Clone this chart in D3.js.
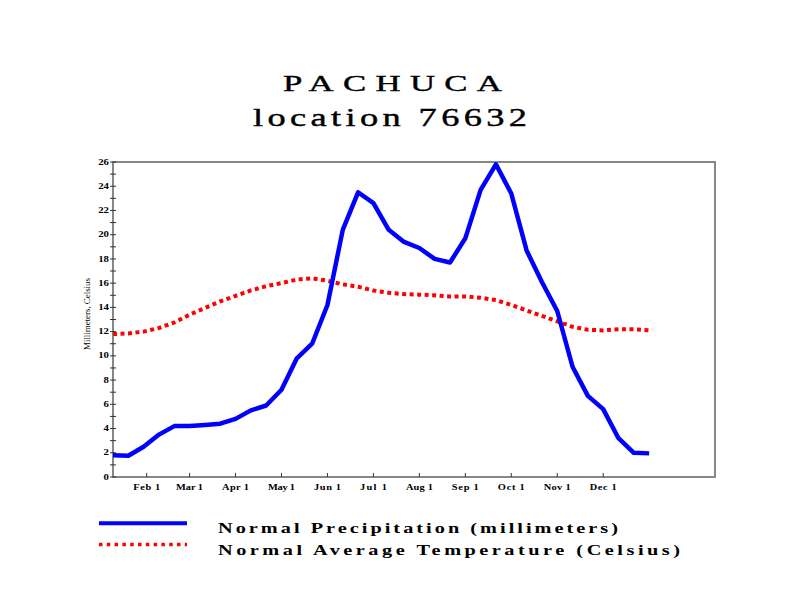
<!DOCTYPE html>
<html>
<head>
<meta charset="utf-8">
<script src="https://cdn.jsdelivr.net/npm/d3@7"></script>
<style>
  html, body { margin: 0; padding: 0; background: #ffffff; }
  svg { display: block; }
  text { font-family: "Liberation Serif", "DejaVu Serif", serif; fill: #000; }
</style>
</head>
<body>
<svg id="chart" width="792" height="612"></svg>
<script>
// ---- data (dekads, 36 per year) ----
const precipitation = [1.8, 1.75, 2.5, 3.5, 4.2, 4.2, 4.3, 4.4, 4.8, 5.5, 5.9, 7.2,
  9.8, 11.0, 14.2, 20.4, 23.5, 22.6, 20.4, 19.4, 18.9, 18.0, 17.7, 19.7,
  23.7, 25.8, 23.4, 18.7, 16.1, 13.7, 9.1, 6.7, 5.6, 3.2, 2.0, 1.95];
const temperature = [11.8, 11.85, 12.0, 12.3, 12.75, 13.4, 13.95, 14.5, 14.95, 15.4, 15.75, 16.0,
  16.3, 16.4, 16.2, 15.9, 15.7, 15.4, 15.2, 15.1, 15.05, 15.0, 14.9, 14.9,
  14.8, 14.6, 14.2, 13.75, 13.3, 12.85, 12.4, 12.15, 12.1, 12.2, 12.2, 12.1];
const monthLabels = ["Feb 1", "Mar 1", "Apr 1", "May 1", "Jun 1", "Jul 1", "Aug 1", "Sep 1", "Oct 1", "Nov 1", "Dec 1"];
const monthTickIndex = [2.2, 5, 8, 11, 14, 17, 20, 23, 26, 29, 32];
const yMajorTicks = [0, 2, 4, 6, 8, 10, 12, 14, 16, 18, 20, 22, 24, 26];
const yMinorTicks = d3.range(0, 27, 1);
const titleLines = ["PACHUCA", "location 76632"];
const yAxisTitle = "Millimeters, Celsius";
const legendLabels = ["Normal Precipitation (millimeters)", "Normal Average Temperature (Celsius)"];

// ---- layout ----
const svg = d3.select("#chart");
const plotLeft = 113, plotRight = 715, plotTop = 162, plotBottom = 477;

const x = d3.scaleLinear().domain([0, 39.3]).range([plotLeft, plotRight]);
const y = d3.scaleLinear().domain([0, 26]).range([plotBottom, plotTop]);

// wide-glyph text helper (horizontal stretch like the original raster font)
function wideText(parent, o) {
  const g = parent.append("g").attr("transform", `translate(${o.x},${o.y}) scale(${o.sx},1)`);
  const t = g.append("text").attr("x", 0).attr("y", 0)
    .attr("font-size", o.size).attr("text-anchor", o.anchor || "start")
    .attr("font-weight", o.weight || "normal");
  if (o.dy) t.attr("dy", o.dy);
  if (o.len) t.attr("textLength", o.len / o.sx).attr("lengthAdjust", "spacing");
  if (o.ls) t.attr("letter-spacing", o.ls);
  t.text(o.text);
  return t;
}

// title
wideText(svg, { x: 392.5, y: 91, sx: 1.45, size: 24, anchor: "middle", len: 219, text: titleLines[0] })
  .attr("stroke", "#000").attr("stroke-width", 0.4);
wideText(svg, { x: 390, y: 126, sx: 1.4, size: 26, anchor: "middle", len: 274, text: titleLines[1] })
  .attr("stroke", "#000").attr("stroke-width", 0.4);

// frame
svg.append("rect").attr("x", plotLeft).attr("y", plotTop)
  .attr("width", plotRight - plotLeft).attr("height", plotBottom - plotTop)
  .attr("fill", "#ffffff").attr("stroke", "#7a7a7a").attr("stroke-width", 1.8);

// y axis ticks
const yAxisG = svg.append("g");
yAxisG.selectAll("line").data(yMinorTicks).join("line")
  .attr("x1", plotLeft - 3).attr("x2", plotLeft + 3)
  .attr("y1", d => y(d)).attr("y2", d => y(d))
  .attr("stroke", "#333").attr("stroke-width", 1);
yMajorTicks.forEach(v => {
  wideText(yAxisG, { x: plotLeft - 4, y: y(v), dy: "0.33em", sx: 1.35, size: 8,
    anchor: "end", weight: "bold", text: String(v) });
});

// x axis ticks
const xAxisG = svg.append("g");
xAxisG.selectAll("line").data(monthTickIndex).join("line")
  .attr("x1", d => x(d)).attr("x2", d => x(d))
  .attr("y1", plotBottom).attr("y2", plotBottom - 4)
  .attr("stroke", "#333").attr("stroke-width", 1);
monthLabels.forEach((lab, i) => {
  wideText(xAxisG, { x: x(monthTickIndex[i]), y: 490, sx: 1.3, size: 8, anchor: "middle",
    weight: "bold", len: 27, text: lab });
});

// y axis title
svg.append("text").attr("transform", "translate(90,314) rotate(-90)")
  .attr("text-anchor", "middle").attr("font-size", 9)
  .attr("textLength", 72).attr("lengthAdjust", "spacing")
  .text(yAxisTitle);

// lines
const line = d3.line().x((d, i) => x(i)).y(d => y(d));
svg.append("path").datum(temperature).attr("d", line)
  .attr("fill", "none").attr("stroke", "#ff0000").attr("stroke-width", 4)
  .attr("stroke-dasharray", "4,3.5");
svg.append("path").datum(precipitation).attr("d", line)
  .attr("fill", "none").attr("stroke", "#0000ff").attr("stroke-width", 4.5)
  .attr("stroke-linejoin", "round");

// legend
svg.append("line").attr("x1", 99).attr("x2", 187).attr("y1", 523.3).attr("y2", 523.3)
  .attr("stroke", "#0000ff").attr("stroke-width", 4);
svg.append("line").attr("x1", 99).attr("x2", 187).attr("y1", 544.5).attr("y2", 544.5)
  .attr("stroke", "#ff0000").attr("stroke-width", 3.5).attr("stroke-dasharray", "3.5,4.3");
wideText(svg, { x: 218, y: 533, sx: 1.45, size: 14, weight: "bold", len: 400, text: legendLabels[0] });
wideText(svg, { x: 218, y: 555, sx: 1.45, size: 14, weight: "bold", len: 462, text: legendLabels[1] });
</script>
</body>
</html>
